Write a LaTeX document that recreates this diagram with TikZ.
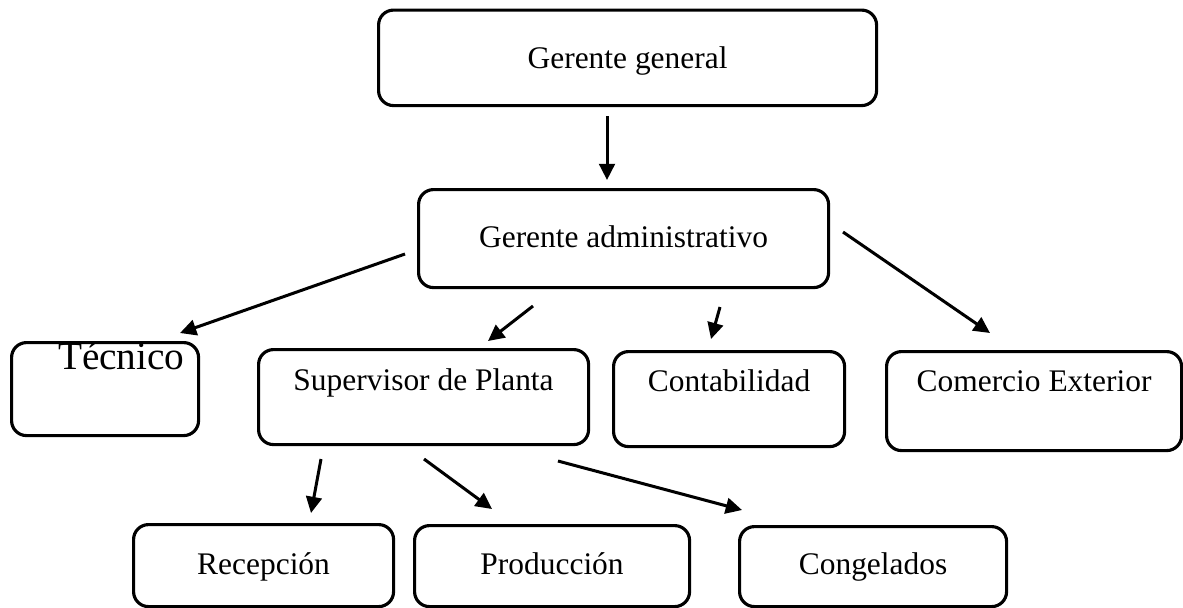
\documentclass[tikz,border=0pt]{standalone}
\usepackage{fontspec}
\setmainfont{Liberation Serif}
\usetikzlibrary{arrows.meta,positioning}
\newlength{\pxlen}
\setlength{\pxlen}{0.3817pt}

\begin{document}
\begin{tikzpicture}[
    x=0.3817pt, y=-0.3817pt,
    box/.style={draw, rounded corners=5.7pt, line width=1.2pt, inner sep=0pt, anchor=north west, align=center, font=\fontsize{12}{14}\selectfont},
    arrow/.style={-{Triangle[length=6.2pt, width=6pt]}, line width=1.15pt}
]
    \useasboundingbox (0,0) rectangle (1183,607);
    \node[box, minimum width=498\pxlen, text height=58.5\pxlen, text depth=37\pxlen] (gg) at (377,8.5) {Gerente general};
    \node[box, minimum width=410\pxlen, text height=58\pxlen, text depth=40\pxlen] (adm) at (417,188) {Gerente administrativo};
    \node[box, inner xsep=14\pxlen, text width=159\pxlen, align=right, text height=27\pxlen, text depth=66\pxlen, font=\fontsize{15}{17}\selectfont] (tec) at (10,341) {Técnico};
    \node[box, minimum width=330\pxlen, text height=41\pxlen, text depth=54\pxlen] (sup) at (257,348) {Supervisor de Planta};
    \node[box, minimum width=231\pxlen, text height=40\pxlen, text depth=55\pxlen] (con) at (612,350) {Contabilidad};
    \node[box, minimum width=295\pxlen, text height=40\pxlen, text depth=59\pxlen] (com) at (885,350) {Comercio Exterior};
    \node[box, minimum width=260\pxlen, text height=50\pxlen, text depth=32\pxlen] (rec) at (132,523) {Recepción};
    \node[box, minimum width=275\pxlen, text height=49\pxlen, text depth=32\pxlen] (pro) at (413,524) {Producción};
    \node[box, minimum width=267\pxlen, text height=48\pxlen, text depth=32\pxlen] (cng) at (738,525) {Congelados};

    \coordinate (gg-a) at (607,116);
    \coordinate (adm-in) at (607,180);
    \coordinate (adm-t) at (405,254);
    \coordinate (tec-in) at (180,333);
    \coordinate (adm-s) at (533,306);
    \coordinate (sup-in) at (488,341);
    \coordinate (adm-c) at (720,307);
    \coordinate (con-in) at (711,339);
    \coordinate (adm-e) at (843,232);
    \coordinate (com-in) at (990,333);
    \coordinate (sup-r) at (321,459);
    \coordinate (rec-in) at (311,513);
    \coordinate (sup-p) at (424,459);
    \coordinate (pro-in) at (492,509);
    \coordinate (sup-g) at (558,461);
    \coordinate (cng-in) at (742,510);

    \draw[arrow] (gg-a) -- (adm-in);
    \draw[arrow] (adm-t) -- (tec-in);
    \draw[arrow] (adm-s) -- (sup-in);
    \draw[arrow] (adm-c) -- (con-in);
    \draw[arrow] (adm-e) -- (com-in);
    \draw[arrow] (sup-r) -- (rec-in);
    \draw[arrow] (sup-p) -- (pro-in);
    \draw[arrow] (sup-g) -- (cng-in);
\end{tikzpicture}
\end{document}
